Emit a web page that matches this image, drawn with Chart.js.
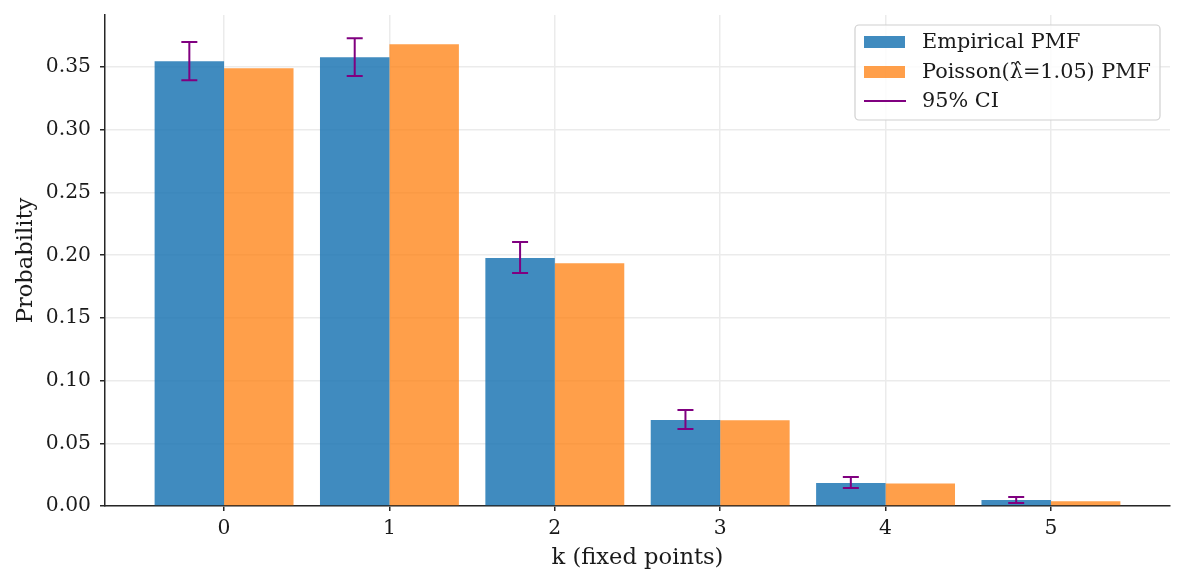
<!DOCTYPE html>
<html>
<head>
<meta charset="utf-8">
<script src="https://cdn.jsdelivr.net/npm/chart.js@4/dist/chart.umd.min.js"></script>
<style>
html,body{margin:0;padding:0;background:#fff;}
#c{display:block;}
</style>
</head>
<body>
<canvas id="c" width="1185" height="585"></canvas>
<script>
const ks = [0, 1, 2, 3, 4, 5];
const empirical = [0.3548, 0.358, 0.1977, 0.0686, 0.0183, 0.0048];
const ciLow  = [0.3396, 0.343, 0.1858, 0.0614, 0.0144, 0.0024];
const ciHigh = [0.370, 0.373, 0.2105, 0.0765, 0.0231, 0.0072];
const poisson = [0.3492, 0.3683, 0.1937, 0.0683, 0.0180, 0.0038];
const yTicks = [0, 0.05, 0.10, 0.15, 0.20, 0.25, 0.30, 0.35];
const xTicks = [0, 1, 2, 3, 4, 5];
const legendLabels = ['Empirical PMF', 'Poisson(\u03BB\u0302=1.05) PMF', '95% CI'];

const FONT = "'DejaVu Serif', serif";
const TXT = '#1a1a1a';
const BLUE = 'rgba(31,119,180,0.85)';
const ORANGE = 'rgba(255,127,14,0.75)';
const PURPLE = '#800080';

const errorBars = {
  id: 'errorBars',
  afterDatasetsDraw(chart) {
    const ctx = chart.ctx, ys = chart.scales.y;
    const meta = chart.getDatasetMeta(0);
    ctx.save();
    ctx.strokeStyle = PURPLE;
    ctx.lineWidth = 2;
    ks.forEach((k, i) => {
      const x = meta.data[i].x;
      const y1 = ys.getPixelForValue(ciLow[i]);
      const y2 = ys.getPixelForValue(ciHigh[i]);
      ctx.beginPath();
      ctx.moveTo(x, y1); ctx.lineTo(x, y2);
      ctx.moveTo(x - 8, y1); ctx.lineTo(x + 8, y1);
      ctx.moveTo(x - 8, y2); ctx.lineTo(x + 8, y2);
      ctx.stroke();
    });
    ctx.restore();
  }
};

const boxLegend = {
  id: 'boxLegend',
  afterDraw(chart) {
    const ctx = chart.ctx;
    const L = 855, T = 25, W = 305, H = 95;
    ctx.save();
    ctx.fillStyle = 'rgba(255,255,255,0.85)';
    ctx.strokeStyle = '#d0d0d0';
    ctx.lineWidth = 1.2;
    ctx.beginPath();
    if (ctx.roundRect) ctx.roundRect(L, T, W, H, 4); else ctx.rect(L, T, W, H);
    ctx.fill(); ctx.stroke();
    const rows = [42, 72, 101];
    ctx.font = '20.8px ' + FONT;
    ctx.textBaseline = 'middle';
    ctx.fillStyle = BLUE; ctx.fillRect(864, rows[0] - 6, 41, 12);
    ctx.fillStyle = ORANGE; ctx.fillRect(864, rows[1] - 6, 41, 12);
    ctx.strokeStyle = PURPLE; ctx.lineWidth = 2;
    ctx.beginPath(); ctx.moveTo(864, rows[2]); ctx.lineTo(906, rows[2]); ctx.stroke();
    ctx.fillStyle = TXT;
    legendLabels.forEach((t, i) => ctx.fillText(t, 922, rows[i] + 1));
    ctx.restore();
  }
};

new Chart(document.getElementById('c'), {
  type: 'bar',
  data: {
    datasets: [
      { label: legendLabels[0], data: ks.map((k, i) => ({ x: k, y: empirical[i] })), backgroundColor: BLUE, borderWidth: 0 },
      { label: legendLabels[1], data: ks.map((k, i) => ({ x: k, y: poisson[i] })), backgroundColor: ORANGE, borderWidth: 0 }
    ]
  },
  plugins: [errorBars, boxLegend],
  options: {
    responsive: false,
    devicePixelRatio: 1,
    animation: false,
    layout: { padding: { top: 15, right: 15, left: 0, bottom: 0 } },
    categoryPercentage: 0.84,
    barPercentage: 1.0,
    plugins: { legend: { display: false }, tooltip: { enabled: false } },
    scales: {
      x: {
        type: 'linear',
        offset: false,
        min: -0.72, max: 5.72,
        afterBuildTicks(s) { s.ticks = xTicks.map(v => ({ value: v })); },
        afterFit(s) { s.height = 79; s.paddingLeft = 0; s.paddingRight = 0; },
        ticks: { color: TXT, font: { family: FONT, size: 20.3 }, padding: 6, callback: v => String(v) },
        grid: { offset: false, color: '#ebebeb', lineWidth: 1.5, tickColor: '#262626', tickLength: 5, tickWidth: 1.5 },
        border: { color: '#262626', width: 1.5 },
        title: { display: true, text: 'k (fixed points)', color: TXT, font: { family: FONT, size: 22.6 }, padding: { top: 4, bottom: 13 } }
      },
      y: {
        min: 0, max: 0.3916,
        afterBuildTicks(s) { s.ticks = yTicks.map(v => ({ value: v })); },
        afterFit(s) { s.width = 105; s.paddingTop = 0; s.paddingBottom = 0; },
        ticks: { color: TXT, font: { family: FONT, size: 20.3 }, padding: 9, callback: v => v.toFixed(2) },
        grid: { color: '#ebebeb', lineWidth: 1.5, tickColor: '#262626', tickLength: 5, tickWidth: 1.5 },
        border: { color: '#262626', width: 1.5 },
        title: { display: true, text: 'Probability', color: TXT, font: { family: FONT, size: 22.6 }, padding: { top: 13, bottom: 4 } }
      }
    }
  }
});
</script>
</body>
</html>
